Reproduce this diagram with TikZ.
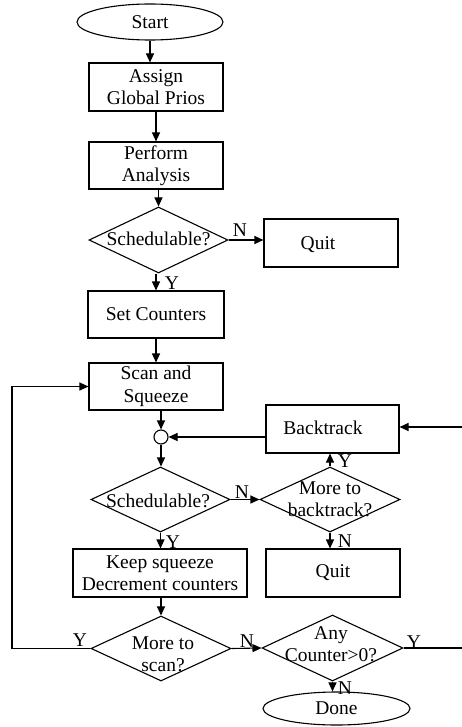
\documentclass[tikz,border=0pt]{standalone}
\usepackage{fontspec}
\setmainfont{Liberation Serif}
\usetikzlibrary{shapes.geometric,arrows.meta}
\begin{document}
\begin{tikzpicture}[x=1pt,y=-1pt,
  every node/.style={font=\fontsize{19.5}{22.5}\selectfont},
  box/.style={draw,line width=1.1pt,rectangle,inner sep=0pt,minimum width=134pt,minimum height=48pt,align=center},
  term/.style={draw,line width=1.1pt,ellipse,inner sep=0pt,minimum width=146pt,minimum height=36pt},
  dec/.style={draw,line width=1.1pt,diamond,inner sep=0pt,minimum width=140pt,minimum height=66pt},
  arr/.style={line width=1.1pt,-{Triangle[length=9pt,width=8pt]}},
  ln/.style={line width=1.1pt},
  lbl/.style={inner sep=0pt}]
\useasboundingbox (0,0) rectangle (462,727);
\node[term] (start) at (150,22) {Start};
\node[box] (assign) at (156,87) {Assign\\Global Prios};
\node[box,minimum height=47pt] (perform) at (156,165.5) {Perform\\Analysis};
\node[dec,minimum width=139pt] (sched1) at (158.5,240) {};
\node[lbl] at (158.5,239) {Schedulable?};
\node[box] (quit1) at (331,243) {};
\node[lbl] at (318,245) {Quit};
\node[box,minimum width=136pt,minimum height=47pt] (setc) at (156,314.5) {Set Counters};
\node[box,minimum height=47pt] (scan) at (156,386.5) {Scan and\\Squeeze};
\node[draw,line width=1.1pt,circle,inner sep=0pt,minimum size=14pt] (circ) at (161,437) {};
\node[box,minimum width=133pt] (backtrack) at (332.5,429) {};
\node[lbl] at (323,428) {Backtrack};
\node[dec,minimum width=139pt,minimum height=65pt] (sched2) at (160.5,499.5) {};
\node[lbl] at (158,501) {Schedulable?};
\node[dec,minimum height=65pt] (morebt) at (330,499.5) {};
\node[lbl,align=center] at (330,499) {More to\\backtrack?};
\node[box,minimum width=174pt] (keep) at (160,573) {Keep squeeze\\Decrement counters};
\node[box] (quit2) at (333,573) {Quit};
\node[dec,minimum height=65pt] (morescan) at (161,648.5) {};
\node[lbl,align=center] at (163,654) {More to\\scan?};
\node[dec,minimum width=141pt] (anyc) at (332.5,648) {};
\node[lbl,align=center] at (331,644) {Any\\Counter>0?};
\node[term,minimum width=147pt,minimum height=33pt] (done) at (336.5,708.5) {Done};
% labels
\node[lbl] at (240,230) {N};
\node[lbl] at (172,283) {Y};
\node[lbl] at (242,492) {N};
\node[lbl] at (345,461) {Y};
\node[lbl] at (173,542) {Y};
\node[lbl] at (345,541) {N};
\node[lbl] at (80,640) {Y};
\node[lbl] at (247,641) {N};
\node[lbl] at (414,642) {Y};
\node[lbl] at (345,688) {N};
% connectors
\coordinate (loopL) at (12,648.5);
\coordinate (rightA) at (463,648);
\coordinate (rightB) at (463,427);
\draw[arr] (start.south) -- (start.south |- assign.north);
\draw[arr] (assign.south) -- (assign.south |- perform.north);
\draw[arr] (sched1.north |- perform.south) -- (sched1.north);
\draw[arr] (sched1.east) -- (sched1.east -| quit1.west);
\draw[arr] (setc.north |- sched1.south) -- (setc.north);
\draw[arr] (setc.south) -- (scan.north);
\draw[arr] (circ.north |- scan.south) -- (circ.north);
\draw[arr] (circ.south) -- (circ.south |- sched2.north);
\draw[arr] (backtrack.west |- circ.east) -- (circ.east);
\draw[arr] (sched2.east) -- (morebt.west);
\draw[arr] (morebt.north) -- (morebt.north |- backtrack.south);
\draw[arr] (sched2.south) -- (sched2.south |- keep.north);
\draw[arr] (morebt.south) -- (morebt.south |- quit2.north);
\draw[arr] (morescan.north |- keep.south) -- (morescan.north);
\draw[arr] (morescan.west) -- (loopL) |- (scan.west);
\draw[arr] (morescan.east) -- (anyc.west);
\draw[ln] (anyc.east) -- (rightA);
\draw[arr] (rightB) -- (rightB -| backtrack.east);
\draw[arr] (anyc.south) -- (anyc.south |- done.north);
\end{tikzpicture}
\end{document}
